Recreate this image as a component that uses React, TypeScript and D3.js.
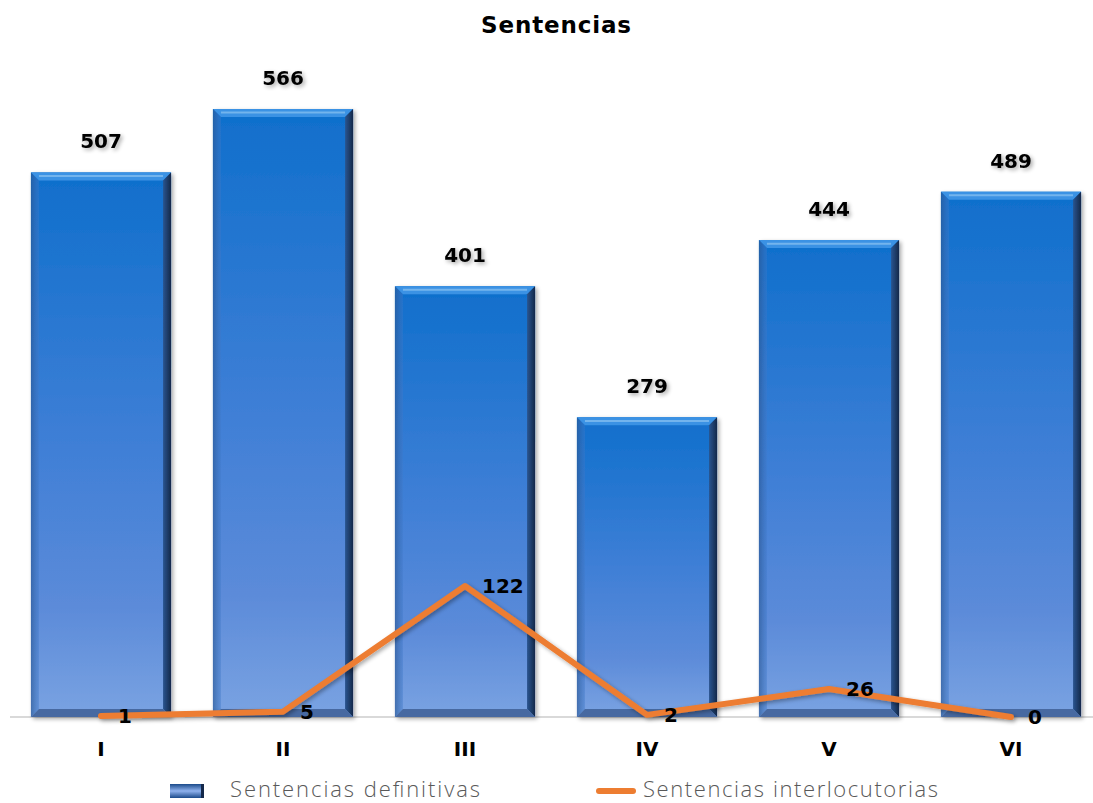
import React from "react";
import * as d3 from "d3";

const categories = ["I", "II", "III", "IV", "V", "VI"];
const definitivas = [507, 566, 401, 279, 444, 489];
const interlocutorias = [1, 5, 122, 2, 26, 0];

const W = 1093;
const H = 803;
const baseY = 717;

export default function App() {
  const x = d3.scaleBand<string>().domain(categories).range([10, 1102]).paddingInner(0.23).paddingOuter(0.115);
  const y = d3.scaleLinear().domain([0, 566]).range([baseY, 109]);
  const bw = x.bandwidth();
  const cx = (c: string) => (x(c) as number) + bw / 2;
  const line = d3
    .line<number>()
    .x((_, i) => cx(categories[i]))
    .y((d) => y(d));
  const bev = 8;
  const numFont = "'DejaVu Sans', sans-serif";
  return (
    <svg width={W} height={H} style={{ display: "block", position: "absolute", left: 0, top: 0 }}>
      <defs>
        <linearGradient id="barG" x1="0" y1="0" x2="0" y2="1">
          <stop offset="0" stopColor="#0f6fcc" />
          <stop offset="0.5" stopColor="#3f7fd6" />
          <stop offset="0.8" stopColor="#5c8bd9" />
          <stop offset="1" stopColor="#7aa3e2" />
        </linearGradient>
        <linearGradient id="rightG" x1="0" y1="0" x2="1" y2="0">
          <stop offset="0" stopColor="#2a5590" />
          <stop offset="1" stopColor="#14284a" />
        </linearGradient>
        <linearGradient id="leftG" x1="0" y1="0" x2="1" y2="0">
          <stop offset="0" stopColor="#2c5a98" />
          <stop offset="1" stopColor="#3f78c8" stopOpacity="0.6" />
        </linearGradient>
        <linearGradient id="legG" x1="0" y1="0" x2="0" y2="1">
          <stop offset="0" stopColor="#1a4a8a" />
          <stop offset="0.5" stopColor="#8fb2ee" />
          <stop offset="1" stopColor="#1a4a8a" />
        </linearGradient>
        <filter id="sh" x="-10%" y="-10%" width="130%" height="130%">
          <feGaussianBlur in="SourceAlpha" stdDeviation="2" />
          <feOffset dx="2" dy="2" result="b" />
          <feComponentTransfer>
            <feFuncA type="linear" slope="0.35" />
          </feComponentTransfer>
          <feMerge>
            <feMergeNode />
            <feMergeNode in="SourceGraphic" />
          </feMerge>
        </filter>
      </defs>
      <rect width={W} height={H} fill="#ffffff" />
      <text x={556} y={33} textAnchor="middle" fontFamily={numFont} fontWeight="bold" fontSize={23} fill="#000" textLength={150}>
        Sentencias
      </text>
      <line x1={10} x2={1102} y1={baseY} y2={baseY} stroke="#d9d9d9" strokeWidth={2} />
      {categories.map((c, i) => {
        const x0 = x(c) as number;
        const x1 = x0 + bw;
        const t = y(definitivas[i]);
        const b = baseY;
        return (
          <g key={c} filter="url(#sh)">
            <rect x={x0} y={t} width={bw} height={b - t} fill="url(#barG)" />
            <polygon points={`${x0},${t} ${x1},${t} ${x1 - bev},${t + bev} ${x0 + bev},${t + bev}`} fill="#3a92e4" />
            <line x1={x0 + bev} x2={x1 - bev} y1={t + bev * 0.45} y2={t + bev * 0.45} stroke="#8cc3f2" strokeWidth={2} opacity={0.7} />
            <polygon points={`${x0},${t} ${x0 + bev},${t + bev} ${x0 + bev},${b - bev} ${x0},${b}`} fill="url(#leftG)" opacity={0.7} />
            <polygon points={`${x1},${t} ${x1 - bev},${t + bev} ${x1 - bev},${b - bev} ${x1},${b}`} fill="url(#rightG)" />
            <polygon points={`${x0},${b} ${x0 + bev},${b - bev} ${x1 - bev},${b - bev} ${x1},${b}`} fill="#3d5f95" opacity={0.85} />
            <text x={cx(c)} y={t - 24} textAnchor="middle" fontFamily={numFont} fontWeight="bold" fontSize={20} fill="#000">
              {definitivas[i]}
            </text>
          </g>
        );
      })}
      <path d={line(interlocutorias) || ""} fill="none" stroke="#ed7d31" strokeWidth={6} strokeLinejoin="round" strokeLinecap="round" filter="url(#sh)" />
      {categories.map((c, i) => (
        <text key={"l" + c} x={cx(c) + 17} y={y(interlocutorias[i]) + 7} textAnchor="start" fontFamily={numFont} fontWeight="bold" fontSize={20} fill="#000">
          {interlocutorias[i]}
        </text>
      ))}
      {categories.map((c) => (
        <text key={"x" + c} x={cx(c)} y={756} textAnchor="middle" fontFamily={numFont} fontWeight="bold" fontSize={20} fill="#000">
          {c}
        </text>
      ))}
      <rect x={170} y={784} width={34} height={14} fill="url(#legG)" />
      <rect x={201} y={784} width={3} height={14} fill="#14284a" />
      <text x={230} y={797} fontFamily="'Open Sans', sans-serif" fontWeight={300} fontSize={22} fill="#595959" textLength={250}>
        Sentencias definitivas
      </text>
      <line x1={599} x2={633} y1={791} y2={791} stroke="#ed7d31" strokeWidth={6} strokeLinecap="round" />
      <text x={643} y={797} fontFamily="'Open Sans', sans-serif" fontWeight={300} fontSize={22} fill="#595959" textLength={295}>
        Sentencias interlocutorias
      </text>
    </svg>
  );
}
